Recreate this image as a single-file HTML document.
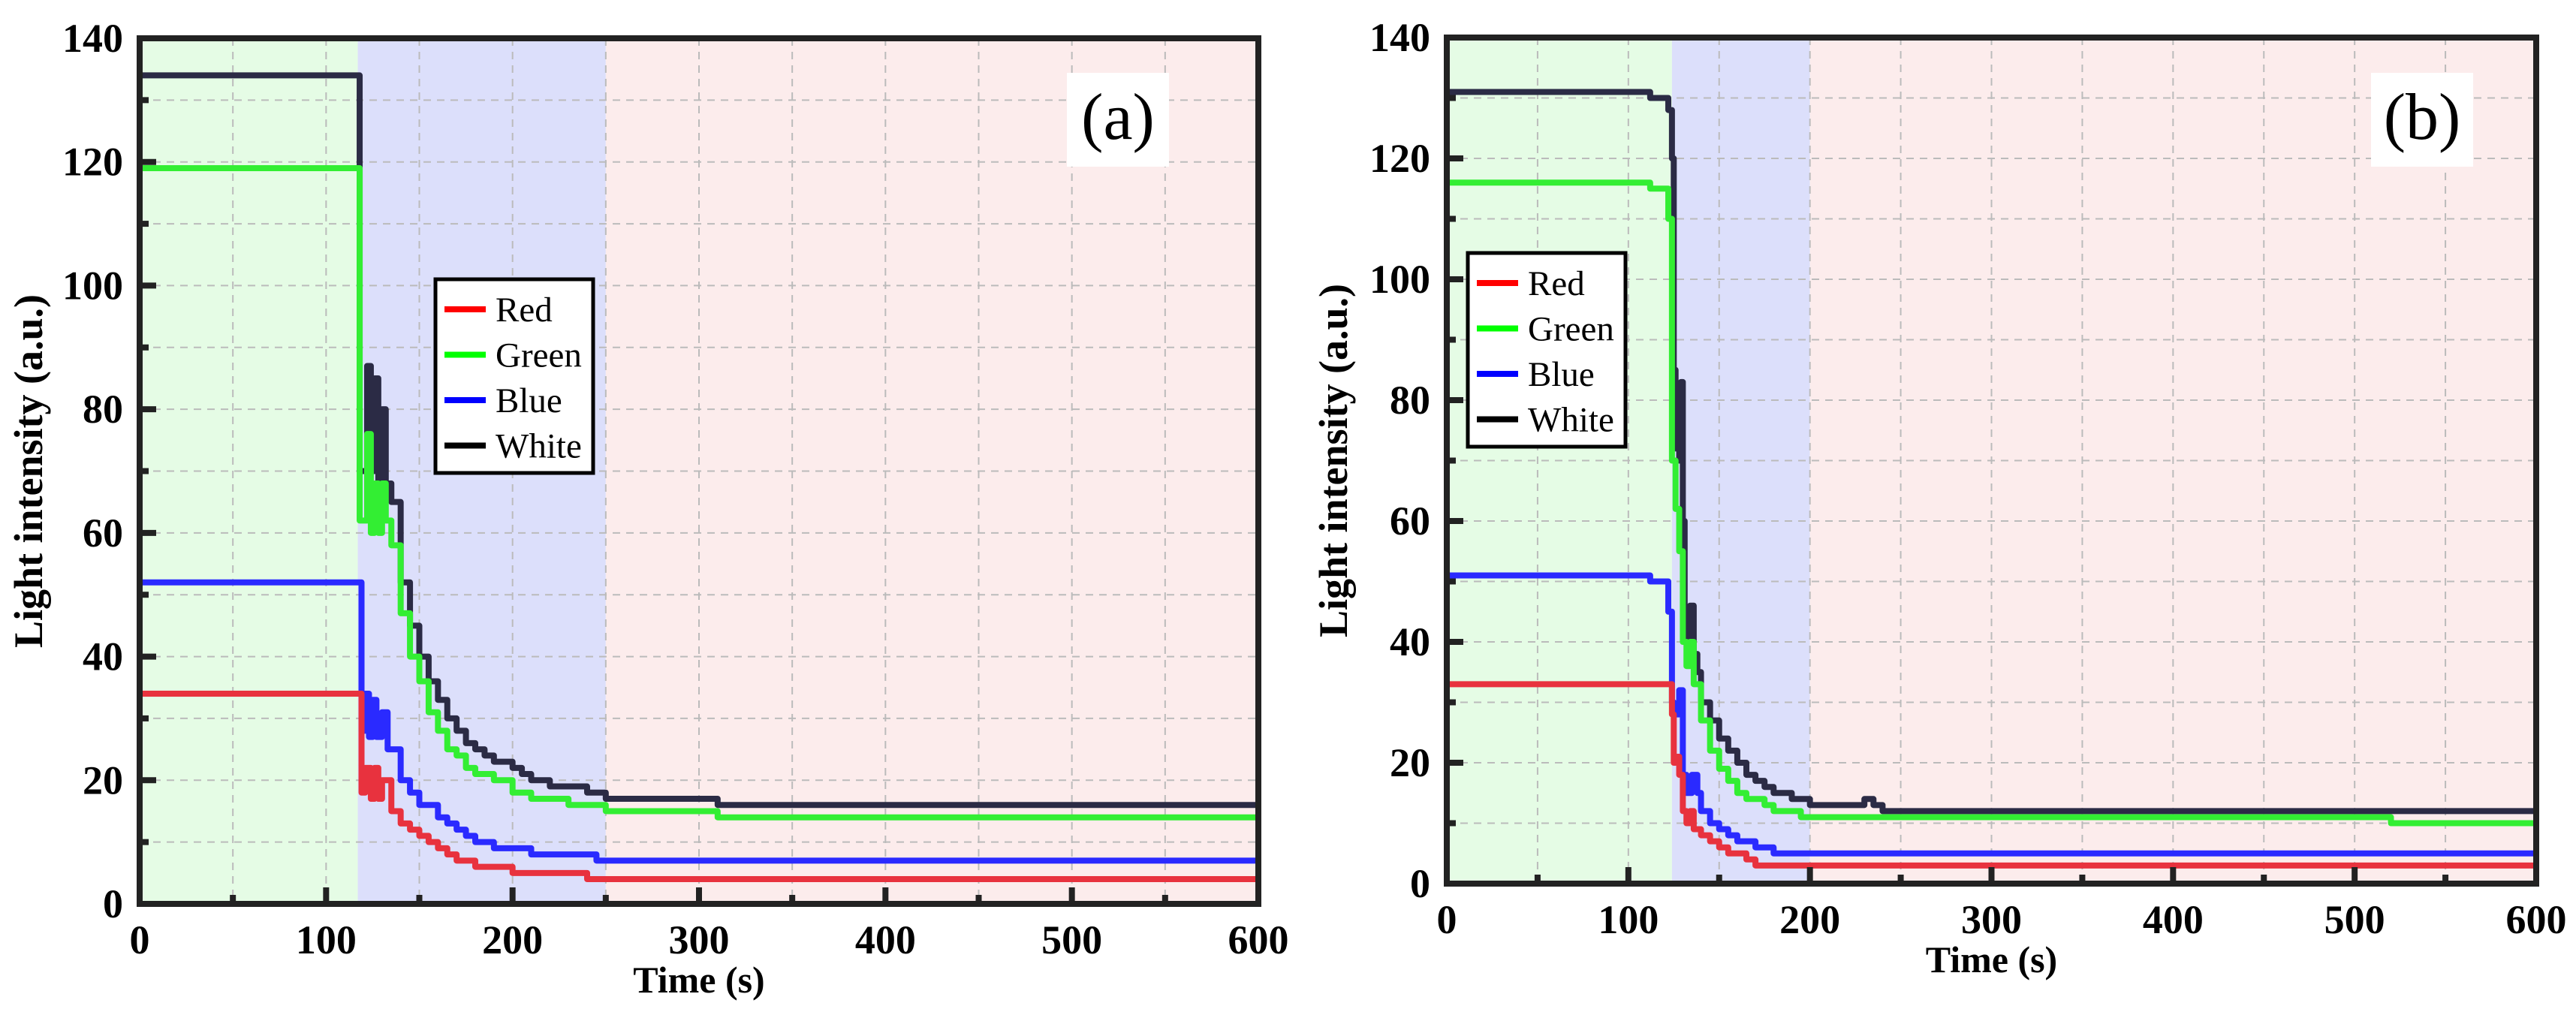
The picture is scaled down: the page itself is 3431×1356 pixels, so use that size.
<!DOCTYPE html>
<html><head><meta charset="utf-8"><style>
html,body{margin:0;padding:0;background:#fff}
svg{display:block}
text{font-family:"Liberation Serif",serif}
</style></head><body>
<svg id="fig" width="3431" height="1356" viewBox="0 0 3431 1356" xmlns="http://www.w3.org/2000/svg"></svg>
<script>
// ---- Data panel (a) ----
const aWhiteT=[0,117,118,122,124,126,128,130,132,135,140,145,150,155,160,165,170,175,180,185,190,200,205,210,220,240,250,310,600];
const aWhiteV=[134,134,70,87,70,85,68,80,68,65,52,45,40,36,33,30,28,26,25,24,23,22,21,20,19,18,17,16,16];
const aGreenT=[0,117,118,122,124,126,128,130,132,135,140,145,150,155,160,165,170,175,180,190,200,210,230,250,310,600];
const aGreenV=[119,119,62,76,60,68,60,68,62,58,47,40,36,31,28,25,24,22,21,20,18,17,16,15,14,14];
const aBlueT=[0,117,119,121,123,125,127,130,133,140,145,150,160,165,170,175,180,190,210,245,600];
const aBlueV=[52,52,28,34,27,33,27,31,25,20,18,16,14,13,12,11,10,9,8,7,7];
const aRedT=[0,117,119,121,124,126,128,130,135,140,145,150,155,160,165,170,180,200,240,600];
const aRedV=[34,34,18,22,17,22,17,20,15,13,12,11,10,9,8,7,6,5,4,4];
// ---- Data panel (b) ----
const bWhiteT=[0,112,122,124,125,126,127,128,129,130,131,132,134,136,138,140,145,150,155,160,165,170,175,180,190,200,230,235,240,250,600];
const bWhiteV=[131,130,128,120,85,72,80,70,83,60,45,40,46,38,35,30,27,24,22,20,18,17,16,15,14,13,14,13,12,12,12];
const bGreenT=[0,112,122,124,126,128,130,132,134,136,140,145,150,155,160,165,175,180,195,240,520,600];
const bGreenV=[116,115,110,70,62,55,40,36,40,33,27,22,19,17,15,14,13,12,11,11,10,10];
const bBlueT=[0,112,122,124,125,128,130,132,135,138,140,145,150,155,160,170,180,240,600];
const bBlueV=[51,50,45,30,28,32,18,15,18,15,12,10,9,8,7,6,5,5,5];
const bRedT=[0,124,125,126,128,130,132,134,136,140,145,150,155,165,170,200,600];
const bRedV=[33,28,20,21,18,12,10,12,9,8,7,6,5,4,3,3,3];
const xTicks=[0,100,200,300,400,500,600];
const yTicks=[0,20,40,60,80,100,120,140];
const aRegions=[0,117,250,600];
const bRegions=[0,124,200,600];

const NS="http://www.w3.org/2000/svg";
const svg=document.getElementById('fig');
function mk(tag,attrs,parent){const e=document.createElementNS(NS,tag);for(const k in attrs)e.setAttribute(k,attrs[k]);(parent||svg).appendChild(e);return e;}

function panel(p){
  const X=v=>p.x0+(v/600)*(p.x1-p.x0);
  const Y=v=>p.y0-(v/140)*(p.y0-p.yt);
  const g=mk('g',{});
  
  
  const cols=['#e5fce5','#dcdffb','#fcecec'];
  for(let i=0;i<3;i++){
    const r=mk('rect',{x:X(p.reg[i]),y:p.yt,width:X(p.reg[i+1])-X(p.reg[i]),height:p.y0-p.yt,fill:cols[i]},g);
    
    
  }
  for(let v=50;v<600;v+=50){const l=mk('line',{x1:X(v),x2:X(v),y1:p.yt,y2:p.y0,stroke:'#bbb','stroke-width':2,'stroke-dasharray':'10,8'},g);
    }
  for(let v=10;v<140;v+=10){const l=mk('line',{x1:p.x0,x2:p.x1,y1:Y(v),y2:Y(v),stroke:'#bbb','stroke-width':2,'stroke-dasharray':'10,8'},g);
    }
  const series=[['white',p.w[0],p.w[1],'#2b2b45'],['green',p.g[0],p.g[1],'#33ee33'],['blue',p.b[0],p.b[1],'#2a2aff'],['red',p.r[0],p.r[1],'#e8323e']];
  series.forEach(s=>{
    const T=s[1],V=s[2];let d='M'+X(T[0])+','+Y(V[0]);
    for(let i=1;i<T.length;i++){d+=' L'+X(T[i])+','+Y(V[i-1])+' L'+X(T[i])+','+Y(V[i]);}
    const path=mk('path',{d:d,fill:'none',stroke:s[3],'stroke-width':8,'stroke-linejoin':'round'},g);
    
    
  });
  mk('rect',{x:p.x0,y:p.yt,width:p.x1-p.x0,height:p.y0-p.yt,fill:'none',stroke:'#222','stroke-width':8},g);
  for(let v=50;v<600;v+=50){const major=v%100==0;mk('line',{x1:X(v),x2:X(v),y1:p.y0,y2:p.y0-(major?22:12),stroke:'#222','stroke-width':8},g);}
  for(let v=10;v<140;v+=10){const major=v%20==0;mk('line',{x1:p.x0,x2:p.x0+(major?22:12),y1:Y(v),y2:Y(v),stroke:'#222','stroke-width':8},g);}
  xTicks.forEach(v=>{const t=mk('text',{x:X(v),y:p.y0+66,'font-size':54,'font-weight':'bold','text-anchor':'middle'},g);t.textContent=v;
    });
  yTicks.forEach(v=>{const t=mk('text',{x:p.x0-22,y:Y(v)+18,'font-size':54,'font-weight':'bold','text-anchor':'end'},g);t.textContent=v;
    });
  const xt=mk('text',{x:(p.x0+p.x1)/2,y:p.y0+118,'font-size':50,'font-weight':'bold','text-anchor':'middle'},g);xt.textContent='Time (s)';
  
  const yx=p.ytx, yy=(p.yt+p.y0)/2;
  const yt=mk('text',{x:yx,y:yy,'font-size':54,'font-weight':'bold','text-anchor':'middle',transform:'rotate(-90 '+yx+' '+yy+')'},g);yt.textContent='Light intensity (a.u.)';
  
  // legend
  const lg=mk('g',{},g);
  
  mk('rect',{x:p.lx,y:p.ly,width:210,height:258,fill:'#fff',stroke:'#000','stroke-width':5},lg);
  [['Red','#ff0000'],['Green','#00ff00'],['Blue','#0000ff'],['White','#000']].forEach((e,i)=>{
    const yy=p.ly+40+i*60.5;
    const ent=mk('g',{},lg);
    
    mk('line',{x1:p.lx+12,x2:p.lx+67,y1:yy,y2:yy,stroke:e[1],'stroke-width':8},ent);
    const t=mk('text',{x:p.lx+80,y:yy+16,'font-size':47},ent);t.textContent=e[0];
  });
  const lb=mk('g',{},g);
  
  mk('rect',{x:p.bx,y:97,width:136,height:125,fill:'#fff'},lb);
  const lt=mk('text',{x:p.bx+68,y:185,'font-size':88,'text-anchor':'middle'},lb);lt.textContent=p.label;
}
panel({name:'panel-a',x0:186,x1:1676,yt:51,y0:1204,reg:aRegions,w:[aWhiteT,aWhiteV],g:[aGreenT,aGreenV],b:[aBlueT,aBlueV],r:[aRedT,aRedV],lx:580,ly:372,bx:1421,label:'(a)',ytx:56});
panel({name:'panel-b',x0:1927,x1:3378,yt:50,y0:1177,reg:bRegions,w:[bWhiteT,bWhiteV],g:[bGreenT,bGreenV],b:[bBlueT,bBlueV],r:[bRedT,bRedV],lx:1955,ly:337,bx:3158,label:'(b)',ytx:1794});
</script>
</body></html>
